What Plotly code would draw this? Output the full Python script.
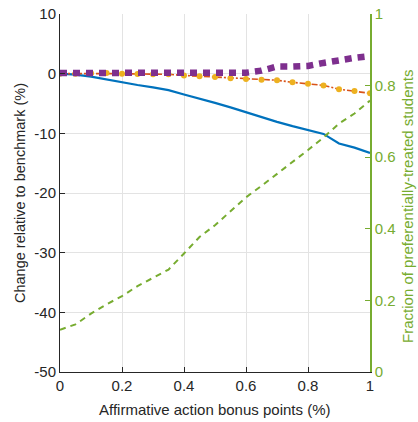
import plotly.graph_objects as go

bonus = [0.0, 0.05, 0.1, 0.15, 0.2, 0.25, 0.3, 0.35, 0.4, 0.45, 0.5,
         0.55, 0.6, 0.65, 0.7, 0.75, 0.8, 0.85, 0.9, 0.95, 1.0]
blue_change = [0.0, -0.15, -0.5, -1.0, -1.4, -1.9, -2.3, -2.75, -3.5, -4.15, -4.9,
               -5.65, -6.5, -7.3, -8.07, -8.8, -9.46, -10.1, -11.7, -12.4, -13.3]
orange_change = [0.0, 0.0, 0.05, 0.1, 0.0, -0.05, -0.1, -0.1, -0.3, -0.45, -0.55,
                 -0.75, -0.9, -1.0, -1.1, -1.45, -1.7, -1.97, -2.6, -2.9, -3.3]
purple_change = [0.1, 0.15, 0.2, 0.25, 0.25, 0.2, 0.15, 0.15, 0.15, 0.15, 0.15,
                 0.15, 0.15, 0.5, 1.2, 1.2, 1.3, 1.8, 2.3, 2.65, 2.95]
green_fraction = [0.118, 0.133, 0.163, 0.189, 0.212, 0.240, 0.263, 0.286, 0.331, 0.377, 0.410,
                  0.450, 0.488, 0.520, 0.553, 0.585, 0.620, 0.655, 0.694, 0.722, 0.758]

x_ticks = [0, 0.2, 0.4, 0.6, 0.8, 1]
x_tick_labels = ["0", "0.2", "0.4", "0.6", "0.8", "1"]
y_ticks = [-50, -40, -30, -20, -10, 0, 10]
y_tick_labels = ["-50", "-40", "-30", "-20", "-10", "0", "10"]
y2_ticks = [0, 0.2, 0.4, 0.6, 0.8, 1]
y2_tick_labels = ["0", "0.2", "0.4", "0.6", "0.8", "1"]

x_title = "Affirmative action bonus points (%)"
y_title = "Change relative to benchmark (%)"
y2_title = "Fraction of preferentially-treated students"

BLUE = "#0072BD"
ORANGE = "#D95319"
YELLOW = "#EDB120"
PURPLE = "#7E2F8E"
GREEN = "#77AC30"
DARK = "#262626"
GRID = "#E3E3E3"
FONT = "Liberation Sans, Arial, sans-serif"

fig = go.Figure()
fig.add_trace(go.Scatter(x=bonus, y=blue_change, mode="lines",
                         line=dict(color=BLUE, width=2.2), showlegend=False))
fig.add_trace(go.Scatter(x=bonus, y=orange_change, mode="lines+markers",
                         line=dict(color=ORANGE, width=1.6, dash="6px,2px,2px,2px"),
                         marker=dict(color=YELLOW, size=6, line=dict(width=0)),
                         showlegend=False))
fig.add_trace(go.Scatter(x=bonus, y=purple_change, mode="lines",
                         line=dict(color=PURPLE, width=6.5, dash="7px,6px"),
                         showlegend=False))
fig.add_trace(go.Scatter(x=bonus, y=green_fraction, mode="lines", yaxis="y2",
                         line=dict(color=GREEN, width=2, dash="6px,5px"),
                         showlegend=False))

fig.update_layout(
    width=418, height=422,
    margin=dict(l=60, r=48, t=14, b=50),
    paper_bgcolor="white", plot_bgcolor="white",
    font=dict(family=FONT, size=14, color=DARK),
    xaxis=dict(range=[0, 1], tickvals=x_ticks, ticktext=x_tick_labels,
               showgrid=True, gridcolor=GRID, gridwidth=1,
               showline=True, linecolor=DARK, linewidth=1,
               ticks="inside", ticklen=5, tickcolor=DARK,
               zeroline=False, automargin=False, ticklabeloverflow="allow",
               tickfont=dict(size=15, color=DARK)),
    yaxis=dict(range=[-50, 10], tickvals=y_ticks, ticktext=y_tick_labels,
               showgrid=True, gridcolor=GRID, gridwidth=1,
               showline=True, linecolor=DARK, linewidth=1,
               ticks="inside", ticklen=5, tickcolor=DARK,
               zeroline=False, automargin=False, ticklabeloverflow="allow",
               tickfont=dict(size=15, color=DARK)),
    yaxis2=dict(range=[0, 1], overlaying="y", side="right",
                tickvals=y2_ticks, ticktext=y2_tick_labels,
                showgrid=False, showline=True, linecolor=GREEN, linewidth=1.5,
                ticks="inside", ticklen=5, tickcolor=GREEN, zeroline=False,
                automargin=False, ticklabeloverflow="allow",
                tickfont=dict(size=15, color=GREEN)),
    annotations=[
        dict(text=x_title, xref="paper", yref="paper", x=0.5, y=0,
             yshift=-37, showarrow=False, font=dict(size=15, color=DARK),
             xanchor="center", yanchor="middle"),
        dict(text=y_title, xref="paper", yref="paper", x=0, y=0.5,
             xshift=-40, textangle=-90, showarrow=False,
             font=dict(size=14.5, color=DARK), xanchor="center", yanchor="middle"),
        dict(text=y2_title, xref="paper", yref="paper", x=1, y=0.461,
             xshift=38, textangle=-90, showarrow=False,
             font=dict(size=15, color=GREEN), xanchor="center", yanchor="middle"),
    ],
)

# remove the browser's default 8px body margin so the 418x422 figure fills the window
fig.write_html("out.html",
               config={"displayModeBar": False},
               post_script="document.body.style.margin='0';"
                           "document.documentElement.style.overflow='hidden';")
